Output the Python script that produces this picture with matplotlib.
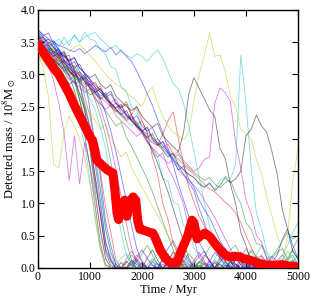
import numpy as np
import matplotlib
matplotlib.use("Agg")
import matplotlib.pyplot as plt

plt.rcParams['font.family'] = ['Liberation Serif', 'DejaVu Serif']
plt.rcParams['mathtext.fontset'] = 'stix'

# ---- data -------------------------------------------------------------
# thin runs sampled every 100 Myr from 0 to 5000 Myr
step_myr = 100

f1_b = [3.62,3.52,3.44,3.48,3.28,3.12,2.98,2.75,2.45,2.05, 1.55,0.95,0.38,0.05,0.00,0.00,0.08,0.00,0.00,0.14, 0.04,0.00,0.00,0.00,0.12,0.22,0.06,0.00,0.00,0.00, 0.08,0.18,0.26,0.10,0.00,0.00,0.00,0.10,0.18,0.05, 0.00,0.00,0.00,0.06,0.14,0.02,0.00,0.00,0.08,0.00, 0.00]
f2_g = [3.48,3.40,3.32,3.20,3.24,3.05,2.92,2.98,2.62,2.30, 1.80,1.20,0.55,0.15,0.00,0.00,0.00,0.08,0.20,0.10, 0.00,0.00,0.05,0.00,0.00,0.12,0.25,0.14,0.02,0.00, 0.00,0.00,0.08,0.02,0.00,0.00,0.10,0.28,0.35,0.18, 0.05,0.00,0.00,0.00,0.06,0.15,0.24,0.30,0.12,0.20, 0.05]
f3_c = [3.40,3.44,3.25,3.15,3.02,3.06,2.85,2.62,2.25,1.90, 1.35,0.75,0.28,0.02,0.00,0.05,0.15,0.22,0.08,0.00, 0.00,0.00,0.10,0.04,0.00,0.00,0.00,0.06,0.18,0.10, 0.00,0.00,0.00,0.05,0.00,0.00,0.08,0.02,0.00,0.00, 0.12,0.26,0.10,0.00,0.00,0.00,0.05,0.14,0.08,0.00, 0.00]
f4_k = [3.66,3.58,3.50,3.42,3.30,3.36,3.18,2.95,2.70,2.45, 1.95,1.40,0.80,0.25,0.04,0.00,0.00,0.10,0.04,0.00, 0.00,0.15,0.28,0.12,0.00,0.00,0.00,0.00,0.06,0.00, 0.00,0.10,0.05,0.00,0.00,0.00,0.04,0.00,0.12,0.20, 0.08,0.00,0.00,0.00,0.00,0.06,0.02,0.00,0.00,0.10, 0.04]
f5_b = [3.70,3.60,3.64,3.48,3.38,3.26,3.30,3.05,2.85,2.52, 2.15,1.60,1.05,0.40,0.12,0.00,0.00,0.00,0.05,0.16, 0.28,0.15,0.04,0.00,0.00,0.00,0.08,0.20,0.12,0.00, 0.00,0.00,0.00,0.10,0.24,0.15,0.05,0.00,0.00,0.00, 0.06,0.00,0.00,0.14,0.08,0.00,0.00,0.00,0.05,0.12, 0.00]
f6_y = [3.30,3.22,3.12,3.16,2.95,2.82,2.70,2.74,2.40,2.05, 1.55,0.95,0.32,0.00,0.00,0.00,0.10,0.00,0.00,0.00, 0.05,0.00,0.00,0.00,0.12,0.04,0.00,0.00,0.00,0.00, 0.08,0.00,0.00,0.00,0.00,0.05,0.00,0.00,0.00,0.10, 0.00,0.00,0.00,0.00,0.06,0.00,0.00,0.00,0.00,0.00, 0.00]
f7_m = [3.52,3.44,3.36,3.28,3.34,3.12,2.98,2.85,2.90,2.40, 1.95,1.42,0.95,0.40,0.15,0.00,0.00,0.14,0.26,0.12, 0.00,0.00,0.00,0.07,0.00,0.00,0.16,0.32,0.20,0.06, 0.00,0.00,0.00,0.00,0.10,0.05,0.00,0.00,0.00,0.18, 0.30,0.14,0.00,0.00,0.00,0.08,0.00,0.00,0.00,0.04, 0.00]
f8_g = [3.45,3.38,3.42,3.25,3.15,3.05,3.10,2.92,2.70,2.48, 2.20,1.68,1.20,0.60,0.25,0.05,0.00,0.00,0.00,0.10, 0.22,0.35,0.20,0.06,0.00,0.00,0.00,0.00,0.12,0.05, 0.00,0.00,0.18,0.32,0.40,0.25,0.10,0.00,0.00,0.00, 0.00,0.05,0.18,0.10,0.00,0.00,0.00,0.00,0.15,0.28, 0.12]
f9_c = [3.55,3.46,3.38,3.42,3.28,3.18,3.05,3.10,2.85,2.55, 2.20,1.75,1.25,0.60,0.22,0.02,0.00,0.00,0.06,0.00, 0.00,0.00,0.10,0.22,0.30,0.15,0.00,0.00,0.00,0.04, 0.00,0.00,0.00,0.00,0.12,0.04,0.00,0.00,0.00,0.00, 0.00,0.10,0.20,0.35,0.22,0.08,0.00,0.00,0.00,0.10, 0.20]
f10_b = [3.58,3.50,3.42,3.35,3.40,3.22,3.15,3.05,2.92,2.95, 2.45,1.90,1.42,0.72,0.35,0.05,0.00,0.00,0.00,0.00, 0.08,0.00,0.00,0.00,0.15,0.30,0.42,0.25,0.08,0.00, 0.00,0.00,0.00,0.06,0.00,0.00,0.00,0.00,0.00,0.05, 0.15,0.00,0.00,0.00,0.00,0.00,0.08,0.00,0.00,0.00, 0.00]
f11_k = [3.35,3.28,3.20,3.24,3.08,2.95,2.85,2.90,2.60,2.25, 1.85,1.30,0.85,0.30,0.10,0.00,0.00,0.00,0.12,0.05, 0.00,0.00,0.00,0.00,0.00,0.06,0.00,0.00,0.00,0.00, 0.00,0.04,0.00,0.00,0.00,0.00,0.00,0.10,0.05,0.00, 0.00,0.00,0.00,0.00,0.00,0.04,0.00,0.00,0.00,0.00, 0.00]
f12_r = [3.50,3.44,3.36,3.28,3.32,3.15,3.05,2.95,3.00,2.65, 2.35,1.90,1.50,0.95,0.55,0.12,0.00,0.00,0.08,0.20, 0.12,0.00,0.00,0.00,0.00,0.10,0.24,0.15,0.00,0.00, 0.00,0.00,0.06,0.00,0.00,0.18,0.30,0.12,0.00,0.00, 0.00,0.00,0.00,0.10,0.02,0.00,0.00,0.00,0.00,0.00, 0.00]
n1_g = [3.50,3.42,3.36,3.40,3.26,3.18,3.10,3.14,2.98,2.88, 2.78,2.60,2.35,2.05,1.65,1.20,0.78,0.40,0.12,0.00, 0.00,0.05,0.14,0.06,0.00,0.00,0.00,0.00,0.10,0.22, 0.12,0.00,0.00,0.00,0.00,0.06,0.00,0.00,0.00,0.00, 0.15,0.28,0.18,0.05,0.00,0.00,0.00,0.00,0.00,0.08, 0.00]
n2_c = [3.38,3.30,3.34,3.20,3.12,3.16,3.00,2.90,2.94,2.75, 2.62,2.45,2.18,1.85,1.42,0.98,0.55,0.20,0.05,0.00, 0.00,0.00,0.00,0.12,0.25,0.10,0.00,0.00,0.00,0.00, 0.00,0.08,0.00,0.00,0.14,0.30,0.18,0.04,0.00,0.00, 0.00,0.00,0.00,0.00,0.10,0.00,0.00,0.12,0.26,0.15, 0.05]
n3_b = [3.64,3.55,3.48,3.52,3.38,3.30,3.22,3.26,3.10,3.02, 2.92,2.80,2.62,2.40,2.12,1.80,1.42,1.05,0.65,0.30, 0.08,0.00,0.00,0.00,0.06,0.00,0.00,0.10,0.24,0.12, 0.00,0.00,0.00,0.00,0.00,0.08,0.20,0.10,0.00,0.00, 0.00,0.00,0.05,0.00,0.00,0.00,0.00,0.10,0.00,0.00, 0.00]
n4_m = [3.42,3.46,3.35,3.28,3.20,3.24,3.10,3.02,2.94,2.98, 2.80,2.65,2.48,2.22,1.90,1.52,1.10,0.68,0.30,0.08, 0.00,0.00,0.10,0.00,0.00,0.00,0.05,0.00,0.00,0.00, 0.12,0.24,0.10,0.00,0.00,0.00,0.00,0.00,0.06,0.00, 0.00,0.00,0.14,0.20,0.08,0.00,0.00,0.00,0.00,0.00, 0.00]
y1_dip = [3.32,3.10,2.65,1.60,1.55,2.10,2.35,2.20,2.00,1.70, 1.30,0.80,0.30,0.05,0.00,0.00,0.00,0.06,0.00,0.00, 0.00,0.00,0.00,0.00,0.00,0.00,0.00,0.05,0.00,0.00, 0.00,0.00,0.00,0.00,0.00,0.00,0.00,0.00,0.00,0.00, 0.00,0.00,0.00,0.00,0.00,0.00,0.00,0.00,0.00,0.00, 0.00]
m_dip = [3.45,3.30,3.15,2.90,2.55,2.10,1.35,2.05,1.30,1.95, 1.60,1.10,0.60,0.15,0.00,0.00,0.00,0.00,0.10,0.00, 0.00,0.00,0.00,0.00,0.00,0.08,0.00,0.00,0.00,0.00, 0.00,0.00,0.00,0.12,0.00,0.00,0.00,0.00,0.00,0.00, 0.00,0.00,0.00,0.00,0.00,0.00,0.00,0.10,0.00,0.00, 0.00]
m1_r = [3.40,3.32,3.24,3.30,3.14,3.06,2.98,3.04,2.88,2.80, 2.86,2.70,2.62,2.68,2.50,2.42,2.50,2.58,2.38,2.50, 2.28,2.10,1.72,1.45,1.00,0.75,0.38,0.20,0.02,0.00, 0.00,0.08,0.20,0.12,0.00,0.00,0.00,0.00,0.05,0.00, 0.00,0.00,0.10,0.18,0.06,0.00,0.00,0.00,0.00,0.06, 0.00]
m2_m = [3.50,3.42,3.46,3.32,3.25,3.18,3.24,3.08,3.00,2.92, 2.84,2.76,2.82,2.64,2.56,2.62,2.45,2.36,2.28,2.18, 2.08,1.96,1.85,1.72,1.78,1.55,1.40,1.20,0.98,0.62, 0.45,0.15,0.08,0.00,0.00,0.10,0.22,0.10,0.00,0.00, 0.00,0.00,0.00,0.06,0.00,0.00,0.12,0.20,0.08,0.00, 0.00]
m3_b = [3.68,3.62,3.55,3.50,3.45,3.42,3.38,3.35,3.40,3.32, 3.38,3.45,3.40,3.35,3.42,3.30,3.38,3.28,3.20,3.05, 2.88,2.70,2.52,2.30,2.10,1.85,1.60,1.30,1.05,0.80, 0.60,0.40,0.25,0.10,0.00,0.00,0.00,0.05,0.15,0.25, 0.10,0.00,0.00,0.00,0.00,0.08,0.20,0.45,0.60,0.35, 0.15]
m4_k = [3.55,3.58,3.45,3.36,3.28,3.34,3.18,3.10,3.16,3.00, 2.92,2.84,2.76,2.68,2.74,2.56,2.48,2.54,2.36,2.24, 2.12,1.98,1.82,1.62,1.40,1.18,0.92,0.66,0.40,0.15, 0.02,0.00,0.00,0.00,0.08,0.00,0.00,0.00,0.00,0.10, 0.02,0.00,0.00,0.00,0.00,0.05,0.00,0.00,0.00,0.00, 0.00]
m5_g = [3.42,3.34,3.40,3.24,3.16,3.08,3.00,3.06,2.88,2.78, 2.68,2.74,2.55,2.44,2.32,2.20,2.26,2.02,1.88,1.72, 1.55,1.38,1.18,0.95,0.72,0.50,0.28,0.10,0.00,0.00, 0.06,0.00,0.00,0.00,0.00,0.14,0.28,0.20,0.05,0.00, 0.00,0.00,0.00,0.00,0.00,0.00,0.05,0.00,0.10,0.30, 0.45]
m6_c = [3.30,3.38,3.35,3.52,3.42,3.58,3.45,3.62,3.50,3.66, 3.55,3.52,3.38,3.32,3.12,3.08,2.80,2.75,2.48,2.45, 2.12,2.08,1.78,1.72,1.38,1.35,1.02,0.98,0.65,0.60, 0.30,0.22,0.05,0.00,0.00,0.00,0.00,0.08,0.02,0.00, 0.00,0.00,0.06,0.14,0.05,0.00,0.00,0.00,0.00,0.00, 0.00]
m7_r = [3.45,3.38,3.30,3.22,3.28,3.12,3.04,2.96,2.88,2.94, 2.78,2.70,2.62,2.68,2.52,2.44,2.36,2.28,2.34,2.18, 2.10,2.02,1.94,1.90,2.08,2.28,2.42,2.00,1.62,1.25, 1.02,0.80,0.65,0.45,0.38,0.20,0.12,0.02,0.00,0.00, 0.00,0.00,0.08,0.00,0.00,0.00,0.00,0.00,0.00,0.04, 0.00]
m8_m = [3.38,3.30,3.22,3.14,3.06,3.12,2.96,2.88,2.80,2.72, 2.78,2.62,2.54,2.46,2.52,2.36,2.28,2.20,2.12,2.04, 2.10,1.94,1.86,1.78,1.70,1.62,1.68,1.52,1.44,1.36, 1.28,1.18,1.05,0.92,0.78,0.62,0.45,0.30,0.15,0.05, 0.00,0.00,0.00,0.00,0.08,0.18,0.10,0.00,0.00,0.00, 0.00]
s1_b = [3.52,3.45,3.36,3.28,3.34,3.18,3.10,3.02,2.92,3.00, 2.84,2.76,2.66,2.72,2.55,2.48,2.52,2.36,2.28,2.20, 2.12,2.18,2.00,1.90,1.96,1.78,1.66,1.52,1.58,1.38, 1.25,1.05,0.90,0.78,0.60,0.42,0.30,0.18,0.06,0.00, 0.00,0.00,0.00,0.06,0.00,0.00,0.00,0.00,0.10,0.04, 0.00]
s2_k = [3.60,3.50,3.55,3.42,3.35,3.28,3.20,3.26,3.10,3.02, 2.95,3.00,2.85,2.78,2.84,2.66,2.58,2.50,2.44,2.50, 2.35,2.26,2.18,2.24,2.05,1.96,1.88,1.80,2.10,2.70, 2.95,2.78,2.62,2.45,2.35,1.85,1.70,1.30,1.00,0.55, 0.35,0.08,0.00,0.00,0.00,0.05,0.00,0.00,0.00,0.00, 0.00]
s3_k = [3.48,3.40,3.32,3.22,3.15,3.22,3.05,2.98,3.04,2.88, 2.80,2.72,2.78,2.62,2.55,2.46,2.38,2.44,2.28,2.20, 2.12,2.02,2.08,1.92,1.82,1.72,1.78,1.60,1.52,1.45, 1.40,1.30,1.25,1.32,1.20,1.28,1.40,1.32,1.38,1.50, 2.05,2.15,2.37,2.20,2.10,1.80,1.45,0.90,0.60,0.25, 0.15]
s4_m = [3.45,3.36,3.28,3.34,3.18,3.10,3.16,3.00,2.92,2.84, 2.90,2.72,2.64,2.58,2.50,2.56,2.40,2.32,2.38,2.22, 2.14,2.06,1.98,1.90,1.96,1.82,1.74,1.80,1.66,1.58, 1.50,1.55,1.68,1.72,2.55,2.79,2.72,2.58,1.95,1.55, 1.05,0.85,0.50,0.40,0.15,0.10,0.00,0.00,0.00,0.00, 0.00]
s5_c = [3.35,3.42,3.38,3.48,3.55,3.45,3.52,3.60,3.50,3.58, 3.62,3.65,3.55,3.48,3.40,3.45,3.35,3.30,3.25,3.32, 3.28,3.20,3.30,3.38,3.25,3.05,2.85,2.78,2.55,2.20, 1.80,1.40,1.00,0.65,0.35,0.15,0.02,0.00,0.00,0.00, 0.00,0.05,0.00,0.00,0.00,0.00,0.08,0.20,0.35,0.55, 0.70]
s6_c = [3.40,3.44,3.30,3.22,3.14,3.05,3.12,2.96,2.88,2.94, 2.78,2.70,2.62,2.68,2.52,2.44,2.36,2.28,2.20,2.28, 2.10,2.02,1.94,2.00,1.84,1.76,1.68,1.60,1.52,1.45, 1.40,1.32,1.25,1.30,1.22,1.35,1.42,1.38,1.60,3.30, 2.55,1.55,0.85,0.60,0.25,0.15,0.00,0.00,0.00,0.00, 0.00]
s7_y = [3.30,3.25,3.35,3.28,3.20,3.30,3.36,3.42,3.46,3.38, 3.30,3.20,3.10,3.00,2.92,2.85,2.80,2.72,2.65,2.58, 2.50,2.70,2.80,2.55,2.35,2.20,2.10,2.05,1.98,2.10, 2.60,3.00,3.30,3.64,3.28,3.30,3.05,2.65,2.50,2.15, 2.08,2.00,1.68,1.45,1.10,0.80,0.50,0.30,0.15,0.05, 0.00]
s8_y = [3.28,3.20,3.10,3.00,3.06,2.88,2.78,2.66,2.72,2.52, 2.40,2.28,2.15,2.22,2.00,1.86,1.72,1.80,1.55,1.40, 1.25,1.10,0.95,0.82,0.66,0.50,0.38,0.22,0.10,0.00, 0.00,0.00,0.05,0.00,0.00,0.00,0.00,0.00,0.00,0.00, 0.00,0.00,0.00,0.08,0.00,0.00,0.00,0.10,0.50,1.35, 1.85]
s9_r = [3.50,3.42,3.48,3.32,3.25,3.30,3.15,3.06,2.98,2.90, 2.82,2.88,2.72,2.64,2.56,2.48,2.54,2.38,2.30,2.22, 2.28,2.10,2.02,1.94,1.86,1.92,1.76,1.68,1.60,1.52, 1.45,1.38,1.30,1.22,1.18,1.10,1.02,0.95,0.85,0.70, 0.50,0.32,0.15,0.05,0.00,0.00,0.00,0.06,0.00,0.00, 0.00]
s10_g = [3.46,3.38,3.30,3.36,3.22,3.14,3.06,2.98,2.90,2.96, 2.80,2.72,2.78,2.62,2.54,2.46,2.38,2.30,2.36,2.20, 2.12,2.18,2.02,1.94,1.86,1.78,1.70,1.76,1.62,1.55, 1.48,1.42,1.36,1.40,1.30,1.24,1.32,1.36,1.15,1.00, 0.70,0.60,0.38,0.35,0.15,0.18,0.28,0.42,0.55,0.45, 0.50]
s11_b = [3.56,3.48,3.40,3.32,3.38,3.22,3.14,3.20,3.04,2.96, 2.88,2.80,2.72,2.64,2.70,2.54,2.46,2.38,2.30,2.36, 2.20,2.12,2.18,2.00,1.90,1.80,1.70,1.58,1.45,1.32, 1.20,0.92,0.70,0.45,0.35,0.15,0.10,0.00,0.00,0.00, 0.00,0.06,0.00,0.00,0.00,0.00,0.00,0.00,0.00,0.05, 0.00]

thin_runs = [
    (f1_b, 'b'), (f2_g, 'g'), (m1_r, 'r'), (f3_c, 'c'), (f7_m, 'm'), (f6_y, 'y'), (f4_k, 'k'),
    (f5_b, 'b'), (f8_g, 'g'), (f12_r, 'r'), (f9_c, 'c'), (m2_m, 'm'), (y1_dip, 'y'), (f11_k, 'k'),
    (f10_b, 'b'), (m5_g, 'g'), (m7_r, 'r'), (m6_c, 'c'), (m_dip, 'm'), (s7_y, 'y'), (m4_k, 'k'),
    (m3_b, 'b'), (s10_g, 'g'), (s9_r, 'r'), (s5_c, 'c'), (m8_m, 'm'), (s8_y, 'y'), (s2_k, 'k'),
    (s1_b, 'b'), (s6_c, 'c'), (s4_m, 'm'), (s3_k, 'k'), (s11_b, 'b'),
    (n1_g, 'g'), (n2_c, 'c'), (n3_b, 'b'), (n4_m, 'm'),
]

red_t = [0, 100, 200, 300, 400, 500, 600, 700, 800, 900, 1000, 1050, 1100, 1130, 1250, 1330,
         1440, 1480, 1520, 1550, 1600, 1670, 1710, 1760, 1830, 1880, 1920, 1960, 2050, 2150,
         2210, 2280, 2350, 2450, 2540, 2670, 2790, 2880, 2960, 3000, 3060, 3130, 3210, 3310,
         3400, 3500, 3600, 3690, 3780, 3880, 3980, 4080, 4200, 4330, 4500, 4710, 4800, 4980]
red_y = [3.47, 3.34, 3.22, 3.10, 3.00, 2.85, 2.70, 2.52, 2.36, 2.20, 2.03, 1.98, 1.80, 1.67,
         1.58, 1.52, 1.47, 1.20, 0.85, 0.75, 0.95, 1.05, 0.80, 1.02, 1.10, 1.05, 0.72, 0.60,
         0.58, 0.55, 0.54, 0.42, 0.28, 0.15, 0.08, 0.08, 0.33, 0.50, 0.74, 0.70, 0.45, 0.50,
         0.54, 0.48, 0.38, 0.28, 0.20, 0.17, 0.18, 0.17, 0.14, 0.12, 0.08, 0.05, 0.04, 0.05,
         0.03, 0.02]

x_ticks = [0, 1000, 2000, 3000, 4000, 5000]
y_ticks = [0.0, 0.5, 1.0, 1.5, 2.0, 2.5, 3.0, 3.5, 4.0]

# ---- plot -------------------------------------------------------------
fig = plt.figure(figsize=(3.14, 3.0), dpi=100)
ax = fig.add_axes([0.121, 0.107, 0.828, 0.860])

for vals, col in thin_runs:
    t = np.arange(len(vals)) * step_myr
    ax.plot(t, vals, color=col, lw=0.6, alpha=0.5, zorder=2)

ax.plot(red_t, red_y, color='red', lw=6.5, solid_joinstyle='round',
        solid_capstyle='round', zorder=5)

ax.set_xlim(0, 5000)
ax.set_ylim(0, 4.0)
ax.set_xticks(x_ticks)
ax.set_yticks(y_ticks)
ax.set_xticklabels([str(v) for v in x_ticks], fontsize=8.5)
ax.set_yticklabels(['%.1f' % v for v in y_ticks], fontsize=8.5)
ax.tick_params(direction='in', top=True, right=True, length=4, width=0.8, pad=2)
for s in ax.spines.values():
    s.set_linewidth(1.0)

ax.set_xlabel('Time / Myr', fontsize=9, labelpad=1)
ax.set_ylabel(r'Detected mass / 10$^8$M$_\odot$', fontsize=9, labelpad=2)

fig.savefig('out.png', dpi=100)
